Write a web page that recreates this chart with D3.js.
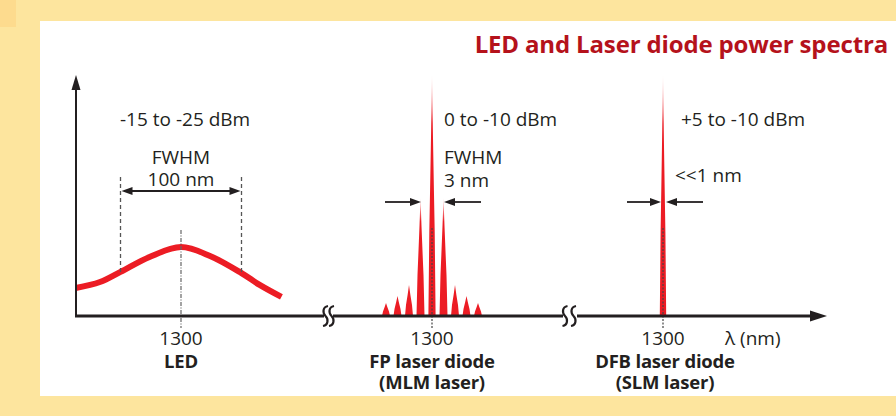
<!DOCTYPE html>
<html>
<head>
<meta charset="utf-8">
<script src="https://cdn.jsdelivr.net/npm/d3@7"></script>
<style>
  body { margin: 0; background: #fde59e; }
  svg { display: block; font-family: "Open Sans", "Noto Sans", sans-serif; }
</style>
</head>
<body>
<svg id="chart" width="896" height="416"></svg>
<script>
// LED spectrum (wavelength nm, relative power)
const ledWavelength = [1213, 1233, 1250, 1274, 1300, 1324, 1350, 1365, 1383];
const ledPower = [11.6, 14.1, 18.3, 24.5, 28.6, 24.9, 17.8, 12.9, 7.9];

// FP laser longitudinal modes
const fpWavelength = [1294, 1295.5, 1297, 1298.5, 1300, 1301.5, 1303, 1304.5, 1306];
const fpPower = [5.4, 8.3, 12.9, 49, 100, 49, 12.9, 8.3, 5.4];

// DFB single mode
const dfbWavelength = [1300];
const dfbPower = [100];

const panels = ["LED", "FP laser diode", "DFB laser diode"];
const subLabels = ["", "(MLM laser)", "(SLM laser)"];
const powerLabels = ["-15 to -25 dBm", "0 to -10 dBm", "+5 to -10 dBm"];
const widthLabels = [["FWHM", "100 nm"], ["FWHM", "3 nm"], ["<<1 nm"]];
const tickValue = 1300;

const svg = d3.select("#chart");
const red = "#ec1c24";
const ink = "#231f20";
const fs = 19;

// background panel
svg.append("rect").attr("x", 0).attr("y", 0).attr("width", 16).attr("height", 27).attr("fill", "#fddb8e");
svg.append("rect").attr("x", 40).attr("y", 21).attr("width", 856).attr("height", 375).attr("fill", "#fff");

// scales: shared power axis, one wavelength scale per broken segment
const y = d3.scaleLinear().domain([0, 100]).range([316, 75]);
const xLed = d3.scaleLinear().domain([1300 - 105 / 1.21, 1300 + 101 / 1.21]).range([76, 282]);
const xFp = d3.scaleLinear().domain([1294, 1306]).range([386, 478]);
const xDfb = d3.scaleLinear().domain([1299, 1301]).range([655, 671]);
const scales = [xLed, xFp, xDfb];

const defs = svg.append("defs");
const grad = defs.append("linearGradient").attr("id", "spike")
    .attr("x1", 0).attr("y1", 0).attr("x2", 0).attr("y2", 1);
grad.append("stop").attr("offset", 0).attr("stop-color", "#fde0e0");
grad.append("stop").attr("offset", 0.2).attr("stop-color", red);
grad.append("stop").attr("offset", 1).attr("stop-color", red);

// title
svg.append("text").attr("x", 888).attr("y", 53).attr("text-anchor", "end")
    .attr("font-size", 24).attr("font-weight", "bold").attr("fill", "#b5121b")
    .attr("letter-spacing", -0.15)
    .text("LED and Laser diode power spectra");

// LED curve
const ledData = ledWavelength.map((w, i) => [w, ledPower[i]]);
svg.append("path").datum(ledData)
    .attr("fill", "none").attr("stroke", red).attr("stroke-width", 6)
    .attr("d", d3.line().curve(d3.curveCatmullRom.alpha(0.5))
        .x(d => xLed(d[0])).y(d => y(d[1])));

// spike shape for a laser mode
function spike(cx, top, base, hw) {
    const h = base - top;
    return "M" + (cx - hw) + "," + base +
        " L" + (cx - hw * 0.75) + "," + (base - h * 0.35) +
        " Q" + (cx - hw * 0.3) + "," + (top + h * 0.3) + " " + cx + "," + top +
        " Q" + (cx + hw * 0.3) + "," + (top + h * 0.3) + " " + (cx + hw * 0.75) + "," + (base - h * 0.35) +
        " L" + (cx + hw) + "," + base + " Z";
}

const fpData = fpWavelength.map((w, i) => [w, fpPower[i]]);
svg.selectAll(".fp").data(fpData).join("path").attr("class", "fp")
    .attr("fill", d => d[1] > 40 ? "url(#spike)" : red)
    .attr("d", d => spike(xFp(d[0]), y(d[1]), y(0), d[1] > 90 ? 3.6 : 4));

const dfbData = dfbWavelength.map((w, i) => [w, dfbPower[i]]);
svg.selectAll(".dfb").data(dfbData).join("path").attr("class", "dfb")
    .attr("fill", "url(#spike)")
    .attr("d", d => spike(xDfb(d[0]), y(d[1]), y(0), 3.2));

// centre lines at 1300
scales.forEach((s, i) => {
    svg.append("line")
        .attr("x1", s(tickValue)).attr("x2", s(tickValue))
        .attr("y1", i === 0 ? 230 : 228).attr("y2", 328)
        .attr("stroke", i === 0 ? "#666" : "#444").attr("stroke-width", 1.2)
        .attr("stroke-dasharray", i === 0 ? "4,1.5,1,1.5" : "2,1.5");
});

// LED FWHM markers
const half = [1250, 1350];
half.forEach(w => {
    svg.append("line").attr("x1", xLed(w)).attr("x2", xLed(w))
        .attr("y1", 177).attr("y2", 274)
        .attr("stroke", "#555").attr("stroke-width", 1.3).attr("stroke-dasharray", "4,3");
});

function arrowHead(x, yy, dir) {
    // dir = 1 points right, -1 points left
    svg.append("path").attr("fill", ink)
        .attr("d", "M" + x + "," + yy + " L" + (x - dir * 11) + "," + (yy - 4) +
            " L" + (x - dir * 11) + "," + (yy + 4) + " Z");
}
function arrowLine(x1, x2, yy) {
    svg.append("line").attr("x1", x1).attr("x2", x2).attr("y1", yy).attr("y2", yy)
        .attr("stroke", ink).attr("stroke-width", 1.8);
}

// LED double arrow
arrowLine(xLed(half[0]) + 4, xLed(half[1]) - 4, 191);
arrowHead(xLed(half[0]) + 1, 191, -1);
arrowHead(xLed(half[1]) - 1, 191, 1);

// FP arrows pointing at the first side modes
arrowLine(385, 414, 202); arrowHead(421, 202, 1);
arrowLine(451, 481, 202); arrowHead(444, 202, -1);

// DFB arrows
arrowLine(627, 654, 202); arrowHead(661, 202, 1);
arrowLine(673, 703, 202); arrowHead(666, 202, -1);

// axes
svg.append("line").attr("x1", 76).attr("x2", 76).attr("y1", 86).attr("y2", 317)
    .attr("stroke", ink).attr("stroke-width", 2);
svg.append("path").attr("fill", ink).attr("d", "M76,75 L71.5,90 L80.5,90 Z");

const segs = [[75, 324], [333, 563], [577, 814]];
segs.forEach(s => {
    svg.append("line").attr("x1", s[0]).attr("x2", s[1]).attr("y1", 316).attr("y2", 316)
        .attr("stroke", ink).attr("stroke-width", 3);
});
svg.append("path").attr("fill", ink).attr("d", "M827,316 L810,310.5 L810,321.5 Z");

// axis break marks
[[325.5, 331.5], [565, 573.5]].forEach(pair => {
    pair.forEach(x0 => {
        svg.append("path").attr("fill", "none").attr("stroke", ink).attr("stroke-width", 2.2)
            .attr("d", "M" + (x0 + 2.5) + ",306 C" + (x0 - 3) + ",307 " + (x0 - 3) + ",313 " + x0 + ",316" +
                " C" + (x0 + 3) + ",319 " + (x0 + 3) + ",325 " + (x0 - 2.5) + ",326");
    });
});

// tick labels and panel names
scales.forEach((s, i) => {
    const cx = s(tickValue);
    svg.append("text").attr("x", cx).attr("y", 345).attr("text-anchor", "middle")
        .attr("font-size", fs).attr("fill", ink).text(tickValue);
    svg.append("text").attr("x", cx + (i === 2 ? 2 : 0)).attr("y", 368).attr("text-anchor", "middle")
        .attr("font-size", 18.5).attr("font-weight", "bold").attr("fill", ink)
        .attr("letter-spacing", -0.2).text(panels[i]);
    if (subLabels[i]) {
        svg.append("text").attr("x", cx + (i === 2 ? 2 : 0)).attr("y", 389).attr("text-anchor", "middle")
            .attr("font-size", 18.5).attr("font-weight", "bold").attr("fill", ink)
            .attr("letter-spacing", -0.2).text(subLabels[i]);
    }
});
svg.append("text").attr("x", 725).attr("y", 345).attr("font-size", fs).attr("fill", ink).text("λ (nm)");

// power range labels
const powerX = [120, 444, 681];
powerLabels.forEach((t, i) => {
    svg.append("text").attr("x", powerX[i]).attr("y", 126)
        .attr("font-size", fs).attr("fill", ink).text(t);
});

// linewidth labels
svg.append("text").attr("x", 181).attr("y", 164).attr("text-anchor", "middle")
    .attr("font-size", fs).attr("fill", ink).text(widthLabels[0][0]);
svg.append("text").attr("x", 181).attr("y", 186).attr("text-anchor", "middle")
    .attr("font-size", fs).attr("fill", ink).text(widthLabels[0][1]);
svg.append("text").attr("x", 444).attr("y", 164)
    .attr("font-size", fs).attr("fill", ink).text(widthLabels[1][0]);
svg.append("text").attr("x", 444).attr("y", 187)
    .attr("font-size", fs).attr("fill", ink).text(widthLabels[1][1]);
svg.append("text").attr("x", 675).attr("y", 182)
    .attr("font-size", fs).attr("fill", ink).text(widthLabels[2][0]);
</script>
</body>
</html>
